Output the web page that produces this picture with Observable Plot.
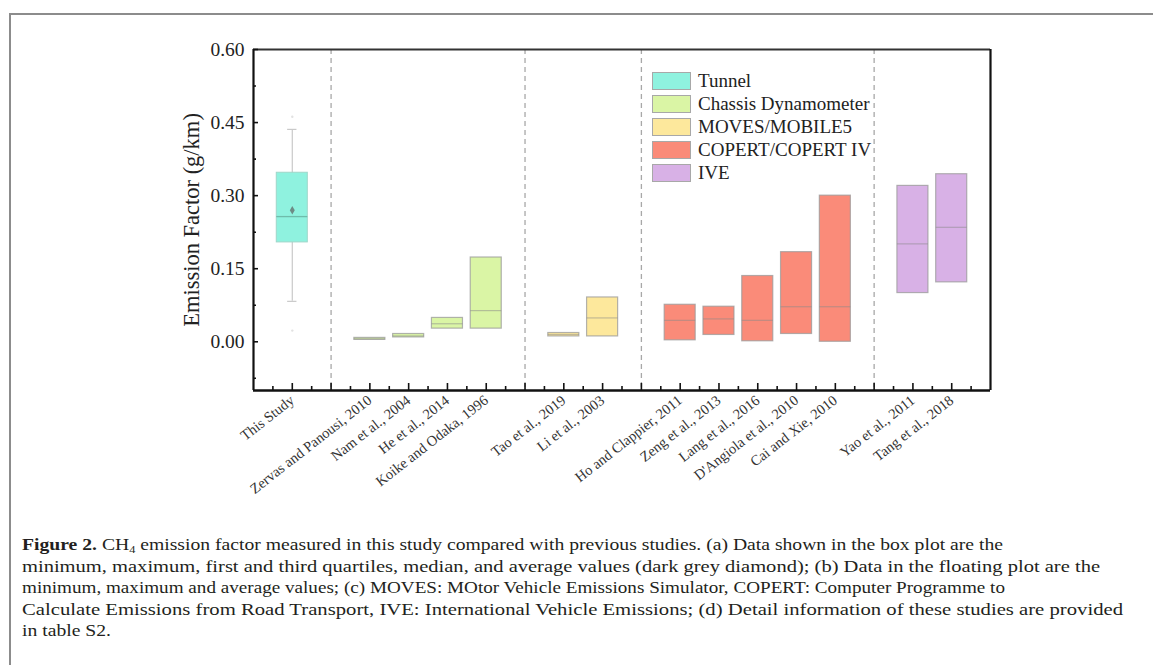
<!DOCTYPE html>
<html><head><meta charset="utf-8">
<script src="https://cdn.jsdelivr.net/npm/d3@7"></script>
<script src="https://cdn.jsdelivr.net/npm/@observablehq/plot@0.6"></script>
<style>
body{margin:0;background:#fff;width:1153px;height:665px;overflow:hidden;position:relative;font-family:"Liberation Serif",serif}
#frame{position:absolute;left:9px;top:13px;width:1200px;height:700px;border-left:2px solid #8c8c8c;border-top:2px solid #8c8c8c}
#chart{position:absolute;left:0;top:0}
#legend{position:absolute;left:652px;top:69px}
.row{display:flex;align-items:center;height:23.2px}
.sw{width:37px;height:16px;border:1.5px solid #a8a8a8;margin-right:7px}
.lt{font-size:19px;color:#222;font-family:"Liberation Serif",serif}
#caption{position:absolute;left:22px;top:534px;font-size:17.5px;line-height:21.5px;color:#231f20;white-space:nowrap;font-family:"Liberation Serif",serif}
#caption div{width:max-content;height:21.5px;transform-origin:0 0}
#caption sub{font-size:11px;line-height:0;vertical-align:-3px}
</style></head><body>
<div id="frame"></div>
<div id="chart"></div>
<div id="legend"></div>
<div id="caption">
<div><b>Figure 2.</b> CH<sub>4</sub> emission factor measured in this study compared with previous studies. (a) Data shown in the box plot are the</div>
<div>minimum, maximum, first and third quartiles, median, and average values (dark grey diamond); (b) Data in the floating plot are the</div>
<div>minimum, maximum and average values; (c) MOVES: MOtor Vehicle Emissions Simulator, COPERT: Computer Programme to</div>
<div>Calculate Emissions from Road Transport, IVE: International Vehicle Emissions; (d) Detail information of these studies are provided</div>
<div>in table S2.</div>
</div>
<script>
// ---- data ----
const groups = ["Tunnel", "Chassis Dynamometer", "MOVES/MOBILE5", "COPERT/COPERT IV", "IVE"];
const groupColors = ["#8ff2df", "#daf5a5", "#fde89c", "#fa8b79", "#d8b1e6"];

const studies = ["This Study", "Zervas and Panousi, 2010", "Nam et al., 2004", "He et al., 2014",
  "Koike and Odaka, 1996", "Tao et al., 2019", "Li et al., 2003", "Ho and Clappier, 2011",
  "Zeng et al., 2013", "Lang et al., 2016", "D'Angiola et al., 2010", "Cai and Xie, 2010",
  "Yao et al., 2011", "Tang et al., 2018"];
const studyGroup = ["Tunnel", "Chassis Dynamometer", "Chassis Dynamometer", "Chassis Dynamometer",
  "Chassis Dynamometer", "MOVES/MOBILE5", "MOVES/MOBILE5", "COPERT/COPERT IV", "COPERT/COPERT IV",
  "COPERT/COPERT IV", "COPERT/COPERT IV", "COPERT/COPERT IV", "IVE", "IVE"];

// box plot (This Study)
const boxStudy = ["This Study"];
const boxMin = [0.023];
const boxWhiskerLow = [0.083];
const boxQ1 = [0.204];
const boxMedian = [0.257];
const boxMean = [0.270];
const boxQ3 = [0.347];
const boxWhiskerHigh = [0.436];
const boxMax = [0.462];

// floating bars (previous studies)
const floatStudy = studies.slice(1);
const floatMin  = [0.004, 0.009, 0.027, 0.027, 0.011, 0.011, 0.003, 0.014, 0.001, 0.016, 0.000, 0.100, 0.122];
const floatMax  = [0.008, 0.016, 0.049, 0.173, 0.018, 0.091, 0.076, 0.072, 0.135, 0.184, 0.300, 0.320, 0.344];
const floatMean = [0.006, 0.012, 0.037, 0.064, 0.015, 0.049, 0.044, 0.047, 0.044, 0.072, 0.072, 0.201, 0.235];

const yMajor = [0, 0.15, 0.30, 0.45, 0.60];
const yMinor = [-0.075, 0.075, 0.225, 0.375, 0.525];
const yDomain = [-0.1, 0.6];
const yLabel = "Emission Factor (g/km)";

// ---- layout slots (a gap slot between method groups) ----
const slotOf = new Map();
const seps = [];
let slot = 0, prev = null;
studies.forEach((s, i) => {
  if (prev !== null && studyGroup[i] !== prev) { seps.push(slot); slot++; }
  slotOf.set(s, slot); slot++; prev = studyGroup[i];
});
const nSlots = slot;
const xDomain = [-1, nSlots];
const nameBySlot = new Map([...slotOf].map(([k, v]) => [v, k]));
const groupOf = new Map(studies.map((s, i) => [s, studyGroup[i]]));
const hw = 0.4;

const boxData = boxStudy.map((s, i) => ({
  slot: slotOf.get(s), group: groupOf.get(s), min: boxMin[i], lo: boxWhiskerLow[i], q1: boxQ1[i],
  med: boxMedian[i], mean: boxMean[i], q3: boxQ3[i], hi: boxWhiskerHigh[i], max: boxMax[i]
}));
const floatData = floatStudy.map((s, i) => ({
  slot: slotOf.get(s), group: groupOf.get(s), min: floatMin[i], max: floatMax[i], mean: floatMean[i]
}));

const font = "Liberation Serif";
const chart = Plot.plot({
  width: 1153, height: 520,
  marginLeft: 253, marginRight: 163, marginTop: 49, marginBottom: 130,
  style: {fontFamily: font, background: "transparent"},
  x: {domain: xDomain},
  y: {domain: yDomain},
  color: {domain: groups, range: groupColors},
  marks: [
    Plot.ruleX(seps, {stroke: "#a8a8a8", strokeWidth: 1.3, strokeDasharray: "5,4"}),
    // box plot
    Plot.ruleX(boxData, {x: "slot", y1: "lo", y2: "hi", stroke: "#c9c9c9", strokeWidth: 1.2}),
    Plot.ruleY(boxData, {y: "lo", x1: d => d.slot - 0.12, x2: d => d.slot + 0.12, stroke: "#c9c9c9", strokeWidth: 1.2}),
    Plot.ruleY(boxData, {y: "hi", x1: d => d.slot - 0.12, x2: d => d.slot + 0.12, stroke: "#c9c9c9", strokeWidth: 1.2}),
    Plot.rect(boxData, {x1: d => d.slot - hw, x2: d => d.slot + hw, y1: "q1", y2: "q3", fill: "group", stroke: "#9fd6c9", strokeWidth: 1}),
    Plot.ruleY(boxData, {y: "med", x1: d => d.slot - hw, x2: d => d.slot + hw, stroke: "#6fbcab", strokeWidth: 1.3}),
    Plot.dot(boxData, {x: "slot", y: "mean", symbol: "diamond", r: 2.6, fill: "#6d8c86", stroke: null}),
    Plot.dot(boxData, {x: "slot", y: "min", r: 1.2, fill: "#e2e2e2", stroke: null}),
    Plot.dot(boxData, {x: "slot", y: "max", r: 1.2, fill: "#e2e2e2", stroke: null}),
    // floating bars
    Plot.rect(floatData, {x1: d => d.slot - hw, x2: d => d.slot + hw, y1: "min", y2: "max", fill: "group", stroke: "#9a9a9a", strokeOpacity: 0.75, strokeWidth: 1.2}),
    Plot.ruleY(floatData, {y: "mean", x1: d => d.slot - hw, x2: d => d.slot + hw, stroke: "#8a8a8a", strokeOpacity: 0.5, strokeWidth: 1.2}),
    // frame
    Plot.ruleY([yDomain[1]], {stroke: "#333", strokeWidth: 2}),
    Plot.ruleY([yDomain[0]], {stroke: "#111", strokeWidth: 2.5}),
    Plot.ruleX([xDomain[0]], {stroke: "#111", strokeWidth: 2.2}),
    Plot.ruleX([xDomain[1]], {stroke: "#111", strokeWidth: 2.2}),
    // y axis
    Plot.axisY(yMajor, {tickSize: 5, dx: 5, tickFormat: () => "", label: null, strokeWidth: 1.6, stroke: "#111"}),
    Plot.axisY(yMinor, {tickSize: 3, dx: 3, tickFormat: () => "", label: null, strokeWidth: 1.6, stroke: "#111"}),
    Plot.axisY(yMajor, {tickSize: 0, tickPadding: 9, tickFormat: d => d.toFixed(2), label: null, fontSize: 19.5, fill: "#222", fontFamily: font}),
    Plot.text([yLabel], {frameAnchor: "left", textAnchor: "middle", rotate: -90, dx: -62, fontSize: 22.5, fill: "#222", fontFamily: font}),
    // x axis
    Plot.axisX(d3.range(0, nSlots), {tickSize: 7, dy: -7, tickFormat: () => "", label: null, strokeWidth: 1.6, stroke: "#111"}),
    Plot.axisX(d3.range(-0.5, nSlots, 1), {tickSize: 4, dy: -4, tickFormat: () => "", label: null, strokeWidth: 1.6, stroke: "#111"}),
    Plot.axisX([...slotOf.values()], {tickSize: 0, tickPadding: 8, tickRotate: -38, tickFormat: d => nameBySlot.get(d), label: null, fontSize: 14.5, fill: "#333", fontFamily: font})
  ]
});
document.getElementById("chart").appendChild(chart);

// legend
const legend = document.getElementById("legend");
groups.forEach((g, i) => {
  const row = document.createElement("div"); row.className = "row";
  const sw = document.createElement("div"); sw.className = "sw"; sw.style.background = groupColors[i];
  const t = document.createElement("span"); t.className = "lt"; t.textContent = g;
  row.appendChild(sw); row.appendChild(t); legend.appendChild(row);
});

// caption: fit each line to the reference's line length
const lines = [...document.querySelectorAll("#caption div")];
const targets = [981, 1078, 983, 1101, null];
const base = targets[0] / lines[0].getBoundingClientRect().width;
lines.forEach((el, i) => {
  const w = el.getBoundingClientRect().width;
  const s = targets[i] ? targets[i] / w : base;
  el.style.transform = `scaleX(${s})`;
});
</script>
</body></html>
